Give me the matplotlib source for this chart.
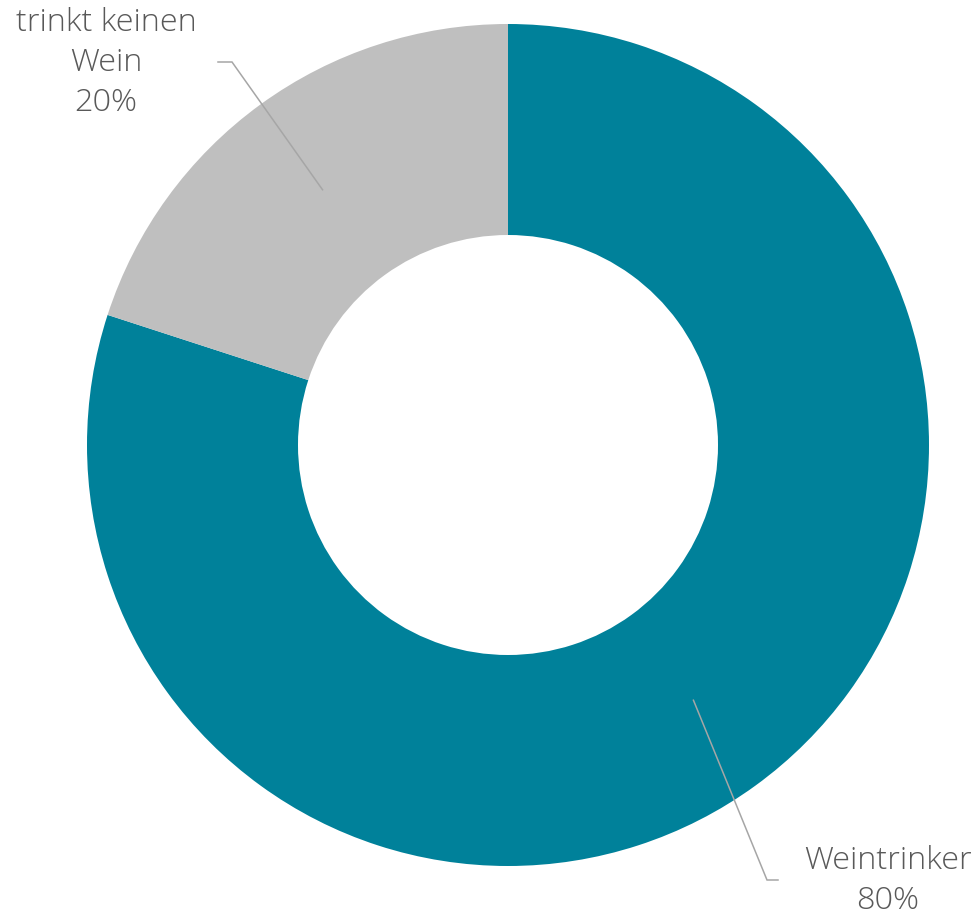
import numpy as np
import matplotlib
matplotlib.use("Agg")
import matplotlib.pyplot as plt

# data
categories = ["Weintrinker", "trinkt keinen\nWein"]
shares = [80, 20]
colors = ["#00819A", "#BFBFBF"]

W, H = 976, 917
fig = plt.figure(figsize=(W / 100, H / 100), dpi=100)
ax = fig.add_axes([0, 0, 1, 1])
ax.set_xlim(0, W)
ax.set_ylim(0, H)
ax.set_aspect("equal")
ax.axis("off")

cx, cy = 508, H - 445
r_out, ring = 421, 211

wedges, _ = ax.pie(shares, colors=colors, startangle=90, counterclock=False,
                   center=(cx, cy), radius=r_out,
                   wedgeprops=dict(width=ring, linewidth=0))
ax.set_xlim(0, W)
ax.set_ylim(0, H)

font = dict(family=["Open Sans", "DejaVu Sans"], fontweight="light",
            color="#595959", fontsize=23.3, ha="center", va="center",
            linespacing=1.32)

# label anchor: text center, elbow end, elbow bend (pixels from top-left)
label_pos = [
    dict(text=(888, 881), elbow=(778, 880), bend=(767, 880)),
    dict(text=(106, 63), elbow=(218, 62), bend=(232, 62)),
]

r_mid = r_out - ring / 2
for w, cat, val, lp in zip(wedges, categories, shares, label_pos):
    ang = np.deg2rad((w.theta1 + w.theta2) / 2)
    px = cx + r_mid * np.cos(ang)
    py = cy + r_mid * np.sin(ang)
    bx, by = lp["bend"]
    ex, ey = lp["elbow"]
    ax.plot([px, bx, ex], [py, H - by, H - ey], color="#A6A6A6", lw=1.1,
            solid_joinstyle="miter")
    tx, ty = lp["text"]
    ax.text(tx, H - ty, f"{cat}\n{val}%", **font)

fig.savefig("out.png", dpi=100)
